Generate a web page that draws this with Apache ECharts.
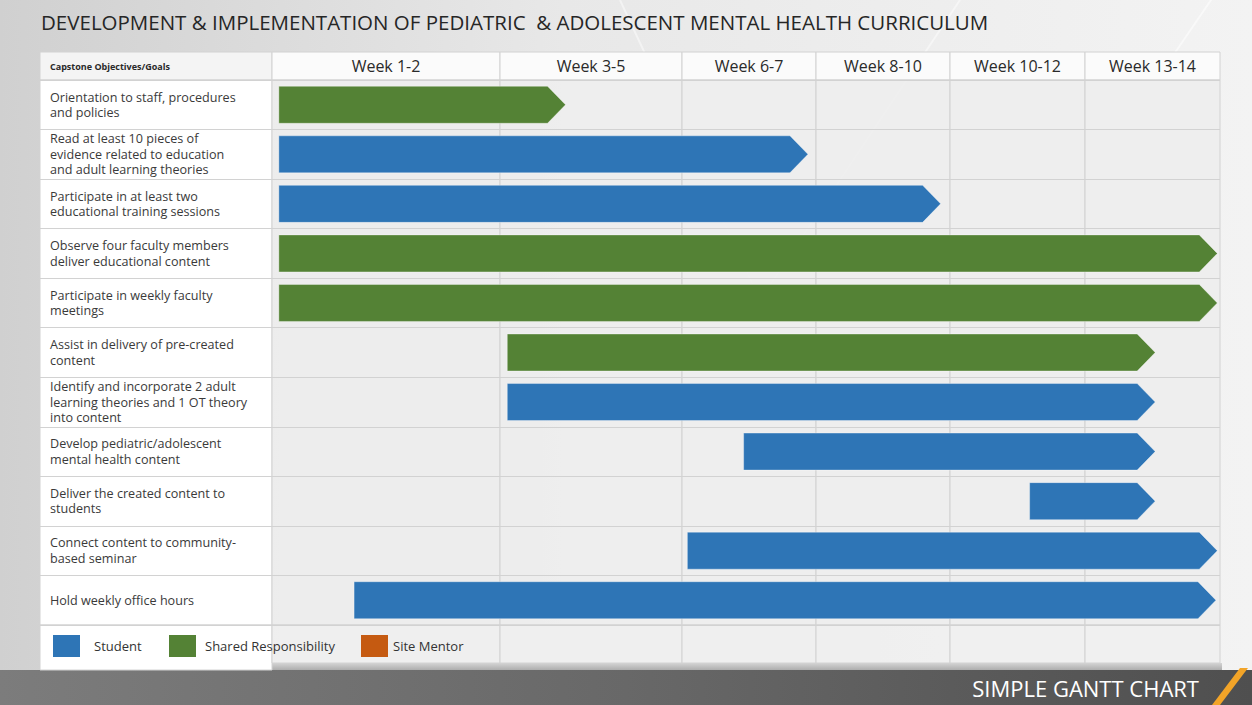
<!DOCTYPE html>
<html>
<head>
<meta charset="utf-8">
<script src="https://cdn.jsdelivr.net/npm/echarts@6/dist/echarts.min.js"></script>
<style>
html,body{margin:0;padding:0;background:#e4e4e4;}
#chart{width:1252px;height:705px;}
</style>
</head>
<body>
<div id="chart"></div>
<script>
// ---------- data ----------
const chartTitle = 'DEVELOPMENT & IMPLEMENTATION OF PEDIATRIC  & ADOLESCENT MENTAL HEALTH CURRICULUM';
const headerLabel = 'Capstone Objectives/Goals';
const weekLabels = ['Week 1-2', 'Week 3-5', 'Week 6-7', 'Week 8-10', 'Week 10-12', 'Week 13-14'];
const tasks = [
  'Orientation to staff, procedures\nand policies',
  'Read at least 10 pieces of\nevidence related to education\nand adult learning theories',
  'Participate in at least two\neducational training sessions',
  'Observe four faculty members\ndeliver educational content',
  'Participate in weekly faculty\nmeetings',
  'Assist in delivery of pre-created\ncontent',
  'Identify and incorporate 2 adult\nlearning theories and 1 OT theory\ninto content',
  'Develop pediatric/adolescent\nmental health content',
  'Deliver the created content to\nstudents',
  'Connect content to community-\nbased seminar',
  'Hold weekly office hours'
];
// start / end positions, in week-column units (0 = start of "Week 1-2", 6 = end of "Week 13-14")
const startCol = [0.03, 0.03, 0.03, 0.03, 0.03, 1.04, 1.04, 2.46, 4.59, 2.04, 0.36];
const endCol   = [1.36, 2.94, 3.93, 5.98, 5.98, 5.52, 5.52, 5.52, 5.52, 5.98, 5.97];
const owner = ['Shared Responsibility', 'Student', 'Student', 'Shared Responsibility', 'Shared Responsibility',
               'Shared Responsibility', 'Student', 'Student', 'Student', 'Student', 'Student'];
const roles = ['Student', 'Shared Responsibility', 'Site Mentor'];
const roleColors = ['#2e75b6', '#548235', '#c55a11'];

// ---------- layout ----------
const COL_W = [228, 182, 134, 134, 135, 135];
const LABEL_W = 232;
const TOTAL_W = COL_W.reduce((a, b) => a + b, 0);
function toAxis(v) {
  const i = Math.floor(v);
  let acc = 0;
  for (let k = 0; k < Math.min(i, COL_W.length); k++) acc += COL_W[k];
  if (i >= COL_W.length) return acc;
  return acc + (v - i) * COL_W[i];
}
const FONT = 'Open Sans';

const colData = [[-LABEL_W, 0, -1]];
{ let acc = 0; COL_W.forEach((w, i) => { colData.push([acc, acc + w, i]); acc += w; }); }

function renderCol(params, api) {
  const cs = params.coordSys;
  const x0 = api.coord([api.value(0), 0])[0];
  const x1 = api.coord([api.value(1), 0])[0];
  const idx = api.value(2);
  const top = cs.y, bottom = cs.y + cs.height;
  const isLabel = idx < 0;
  const stroke = '#d2d2d2';
  const children = [
    { type: 'rect', shape: { x: x0, y: top - 28, width: x1 - x0, height: 28 },
      style: { fill: isLabel ? '#f4f4f4' : '#fbfbfb', stroke: stroke, lineWidth: 1 } },
    { type: 'rect', shape: { x: x0, y: top, width: x1 - x0, height: bottom - top },
      style: { fill: isLabel ? '#ffffff' : 'rgba(238,238,238,0.92)', stroke: stroke, lineWidth: 1 } },
    { type: 'rect', shape: { x: x0, y: bottom, width: x1 - x0, height: isLabel ? 45 : 38 },
      style: { fill: isLabel ? '#ffffff' : 'rgba(239,239,239,0.95)', stroke: stroke, lineWidth: 1 } }
  ];
  if (isLabel) {
    children.push({ type: 'text', style: { text: headerLabel, x: x0 + 10, y: top - 14, align: 'left', verticalAlign: 'middle',
      fill: '#2a2a2a', font: 'bold 9px "' + FONT + '"' } });
  } else {
    children.push({ type: 'text', style: { text: weekLabels[idx], x: (x0 + x1) / 2, y: top - 14, align: 'center', verticalAlign: 'middle',
      fill: '#2a2a2a', font: '16px "' + FONT + '"' } });
  }
  return { type: 'group', children };
}

function renderBar(params, api) {
  const s = api.coord([api.value(0), api.value(2)]);
  const e = api.coord([api.value(1), api.value(2)]);
  const h = 37, tip = 18, y = s[1];
  return {
    type: 'polygon',
    shape: { points: [[s[0], y - h / 2], [e[0] - tip, y - h / 2], [e[0], y], [e[0] - tip, y + h / 2], [s[0], y + h / 2]] },
    style: { fill: api.visual('color'), stroke: 'rgba(255,255,255,0.35)', lineWidth: 1 }
  };
}

const barSeries = roles.map((r, ri) => ({
  name: r,
  type: 'custom',
  z: 4,
  renderItem: renderBar,
  itemStyle: { color: roleColors[ri] },
  encode: { x: [0, 1], y: 2 },
  data: tasks.map((t, i) => owner[i] === r ? [toAxis(startCol[i]), toAxis(endCol[i]), i] : null).filter(d => d)
}));

const legendPos = [[53, 9], [169, 4], [361, 0]];
const legends = roles.map((r, i) => ({
  data: [r], left: legendPos[i][0], top: 635, itemWidth: 27, itemHeight: 22, icon: 'rect',
  padding: 0, selectedMode: false,
  textStyle: { fontFamily: FONT, fontSize: 13, color: '#333', padding: [0, 0, 0, legendPos[i][1]] }
}));

const chart = echarts.init(document.getElementById('chart'), null, { renderer: 'svg' });
chart.setOption({
  animation: false,
  title: { text: chartTitle, left: 36, top: 6,
    textStyle: { fontFamily: FONT, fontSize: 20.5, fontWeight: 'normal', color: '#262626' } },
  legend: legends,
  grid: { left: 40, right: 32, top: 80, bottom: 80, containLabel: false },
  xAxis: { type: 'value', min: -LABEL_W, max: TOTAL_W, show: false },
  yAxis: {
    type: 'category', data: tasks, inverse: true, z: 3,
    axisLine: { show: false }, axisTick: { show: false },
    splitLine: { show: true, lineStyle: { color: '#d2d2d2', width: 1 } },
    axisLabel: { inside: true, margin: 10, color: '#3a3a3a', fontSize: 12.6, lineHeight: 15.5, fontFamily: FONT }
  },
  graphic: [
    { type: 'rect', z: -10, silent: true, shape: { x: 0, y: 0, width: 1252, height: 705 },
      style: { fill: new echarts.graphic.LinearGradient(0, 0, 1, 0, [
        { offset: 0, color: '#d0d0d0' }, { offset: 0.45, color: '#e8e8e8' }, { offset: 1, color: '#f3f3f3' }]) } },
    { type: 'polyline', z: -9, silent: true, shape: { points: [[620, 0], [760, 300], [960, 0]] },
      style: { stroke: 'rgba(255,255,255,0.45)', lineWidth: 2, fill: null } },
    { type: 'polyline', z: -9, silent: true, shape: { points: [[1170, 60], [1252, -60]] },
      style: { stroke: 'rgba(255,255,255,0.5)', lineWidth: 2, fill: null } },
    { type: 'rect', z: -5, silent: true, shape: { x: 40, y: 663, width: 1182, height: 8 },
      style: { fill: new echarts.graphic.LinearGradient(0, 0, 0, 1, [
        { offset: 0, color: '#d4d4d4' }, { offset: 1, color: '#a8a8a8' }]) } },
    { type: 'rect', z: -4, silent: true, shape: { x: 0, y: 670, width: 1252, height: 35 },
      style: { fill: new echarts.graphic.LinearGradient(0, 0, 1, 0, [
        { offset: 0, color: '#7c7c7c' }, { offset: 0.5, color: '#686868' }, { offset: 1, color: '#4f4f4f' }]) } },
    { type: 'text', z: 10, silent: true, style: { text: 'SIMPLE GANTT CHART', x: 1199, y: 688, align: 'right', verticalAlign: 'middle',
      fill: '#ffffff', font: '22px "' + FONT + '"' } },
    { type: 'polygon', z: 10, silent: true, shape: { points: [[1212, 705], [1220, 705], [1248, 668], [1240, 668]] },
      style: { fill: '#f2a428' } }
  ],
  series: [
    { name: 'columns', type: 'custom', z: 1, silent: true, renderItem: renderCol, encode: { x: [0, 1] }, data: colData }
  ].concat(barSeries)
});
</script>
</body>
</html>
